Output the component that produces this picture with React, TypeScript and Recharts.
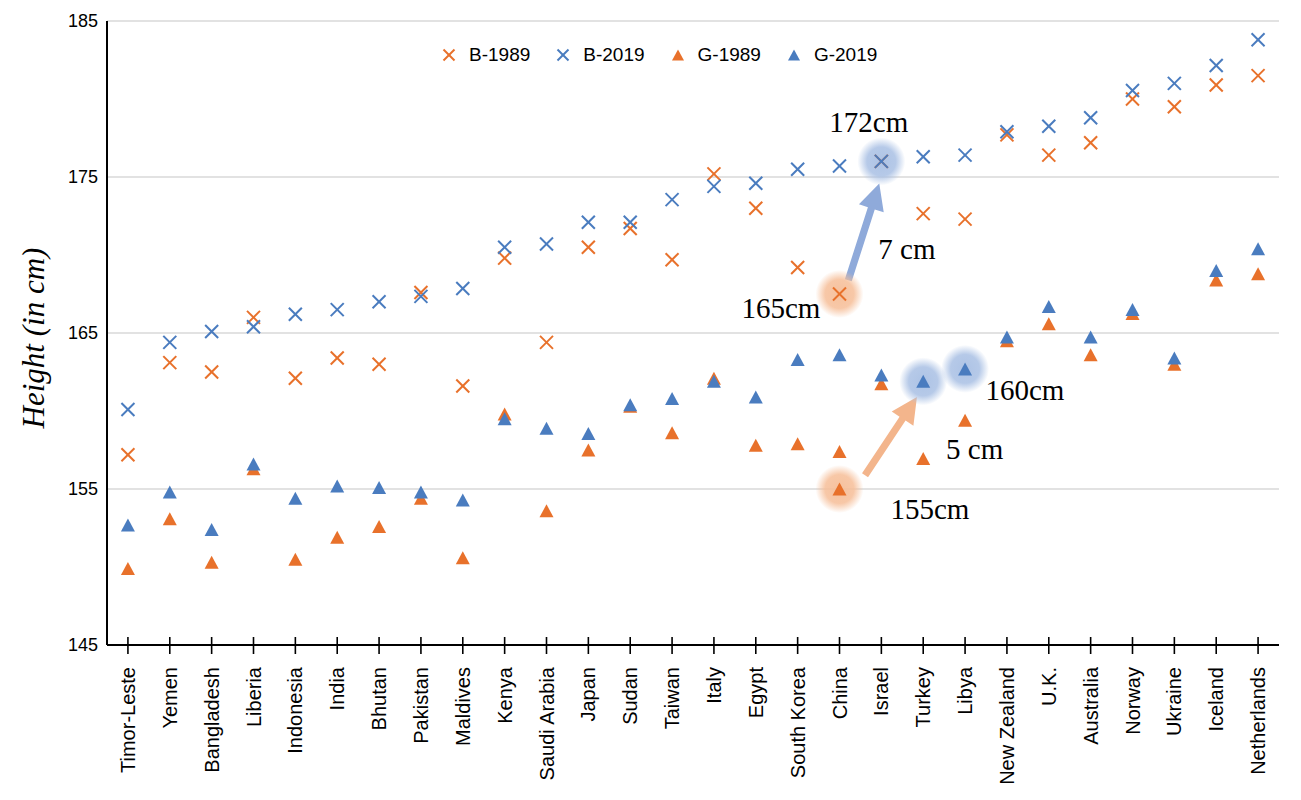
import React from 'react';
import {
  ScatterChart,
  Scatter,
  XAxis,
  YAxis,
  CartesianGrid,
  Legend,
  ReferenceDot,
  ReferenceLine,
} from 'recharts';

// Countries, sorted by boys' height in 2019
const countries = [
  'Timor-Leste', 'Yemen', 'Bangladesh', 'Liberia', 'Indonesia', 'India', 'Bhutan',
  'Pakistan', 'Maldives', 'Kenya', 'Saudi Arabia', 'Japan', 'Sudan', 'Taiwan',
  'Italy', 'Egypt', 'South Korea', 'China', 'Israel', 'Turkey', 'Libya',
  'New Zealand', 'U.K.', 'Australia', 'Norway', 'Ukraine', 'Iceland', 'Netherlands',
];

const boys1989 = [
  157.2, 163.1, 162.5, 166.0, 162.1, 163.4, 163.0, 167.6, 161.6, 169.8, 164.4, 170.5,
  171.7, 169.7, 175.2, 173.0, 169.2, 167.5, 176.0, 172.65, 172.3, 177.7, 176.4, 177.2,
  180.0, 179.5, 180.9, 181.5,
];
const boys2019 = [
  160.1, 164.4, 165.1, 165.4, 166.2, 166.5, 167.0, 167.35, 167.85, 170.5, 170.7, 172.1,
  172.1, 173.55, 174.4, 174.6, 175.5, 175.7, 176.0, 176.3, 176.4, 177.9, 178.25, 178.8,
  180.55, 181.0, 182.15, 183.8,
];
const girls1989 = [
  149.9, 153.1, 150.3, 156.3, 150.5, 151.9, 152.6, 154.4, 150.6, 159.8, 153.6, 157.5,
  160.3, 158.6, 162.1, 157.8, 157.9, 157.4, 161.75, 156.95, 159.4, 164.5, 165.6, 163.6,
  166.25, 163.0, 168.4, 168.8,
];
const girls2019 = [
  152.7, 154.8, 152.4, 156.6, 154.4, 155.2, 155.1, 154.8, 154.3, 159.5, 158.9, 158.55,
  160.4, 160.8, 161.9, 160.9, 163.3, 163.6, 162.3, 161.9, 162.7, 164.75, 166.7, 164.75,
  166.5, 163.4, 169.0, 170.4,
];

const yTicks = [145, 155, 165, 175, 185];

// highlighted points (index into countries, height)
const highlights = [
  { i: 17, v: 167.5, tone: 'orange', mark: '' },
  { i: 17, v: 155.0, tone: 'orange', mark: 'triangle' },
  { i: 18, v: 176.0, tone: 'blue', mark: '' },
  { i: 19, v: 161.9, tone: 'blue', mark: '' },
  { i: 20, v: 162.7, tone: 'blue', mark: '' },
];

const notes = [
  { i: 17.7, v: 177.87, text: '172cm' },
  { i: 18.61, v: 169.72, text: '7 cm' },
  { i: 15.6, v: 165.94, text: '165cm' },
  { i: 21.43, v: 160.72, text: '160cm' },
  { i: 20.23, v: 156.9, text: '5 cm' },
  { i: 19.16, v: 153.1, text: '155cm' },
];

const arrows = [
  { from: { x: 17.21, y: 168.38 }, to: { x: 17.95, y: 174.58 }, color: '#8FAADA' },
  { from: { x: 17.61, y: 155.88 }, to: { x: 18.85, y: 160.9 }, color: '#F3B58C' },
];

const ORANGE = '#E8712B';
const BLUE = '#4A7CBF';
const GLOW = { blue: '#A9C0E4', orange: '#F6BE98' };
const SANS = '"Liberation Sans", Arial, sans-serif';
const SERIF = '"Liberation Serif", "Times New Roman", serif';

const series = [
  { name: 'B-1989', values: boys1989, color: ORANGE, mark: 'cross' },
  { name: 'B-2019', values: boys2019, color: BLUE, mark: 'cross' },
  { name: 'G-1989', values: girls1989, color: ORANGE, mark: 'triangle' },
  { name: 'G-2019', values: girls2019, color: BLUE, mark: 'triangle' },
];

const toPoints = (values: number[]) => values.map((v, i) => ({ i, v }));

const Cross = ({ cx, cy, color, s = 6.5 }: any) => (
  <g stroke={color} strokeWidth={2}>
    <line x1={cx - s} y1={cy - s} x2={cx + s} y2={cy + s} />
    <line x1={cx - s} y1={cy + s} x2={cx + s} y2={cy - s} />
  </g>
);

const Triangle = ({ cx, cy, color, w = 7, h = 6.5 }: any) => (
  <polygon
    points={`${cx},${cy - h} ${cx + w},${cy + h} ${cx - w},${cy + h}`}
    fill={color}
  />
);

const markerShape = (mark: string, color: string) => (props: any) =>
  mark === 'cross'
    ? <Cross cx={props.cx} cy={props.cy} color={color} />
    : <Triangle cx={props.cx} cy={props.cy} color={color} />;

const GlowShape = (props: any) => {
  const { cx, cy, payload } = props;
  const tone = payload.tone as 'blue' | 'orange';
  const id = `glow-${tone}`;
  return (
    <g>
      <defs>
        <radialGradient id={id}>
          <stop offset="0%" stopColor={GLOW[tone]} stopOpacity={0.95} />
          <stop offset="60%" stopColor={GLOW[tone]} stopOpacity={0.85} />
          <stop offset="100%" stopColor={GLOW[tone]} stopOpacity={0} />
        </radialGradient>
      </defs>
      <circle cx={cx} cy={cy} r={24} fill={`url(#${id})`} />
      {payload.mark === 'triangle' && <Triangle cx={cx} cy={cy} color={ORANGE} />}
    </g>
  );
};

const ArrowShape = (color: string) => (p: any) => {
  const { x1, y1, x2, y2 } = p;
  const len = Math.hypot(x2 - x1, y2 - y1);
  const ux = (x2 - x1) / len;
  const uy = (y2 - y1) / len;
  const nx = -uy;
  const ny = ux;
  const head = 26;
  const hw = 13;
  const sw = 3.6;
  const bx = x2 - ux * head;
  const by = y2 - uy * head;
  const pts = [
    [x1 + nx * sw, y1 + ny * sw],
    [bx + nx * sw, by + ny * sw],
    [bx + nx * hw, by + ny * hw],
    [x2, y2],
    [bx - nx * hw, by - ny * hw],
    [bx - nx * sw, by - ny * sw],
    [x1 - nx * sw, y1 - ny * sw],
  ];
  return <polygon points={pts.map((q) => q.join(',')).join(' ')} fill={color} />;
};

const NoteShape = (text: string) => (p: any) => (
  <text x={p.cx} y={p.cy} textAnchor="middle" fontFamily={SERIF} fontSize={29} fill="#000">
    {text}
  </text>
);

const XTick = ({ x, y, payload }: any) => (
  <g>
    <line x1={x} x2={x} y1={y - 8} y2={y + 9} stroke="#000" strokeWidth={1.6} />
    <text
      transform={`translate(${x},${y + 22}) rotate(-90)`}
      textAnchor="end"
      dy="0.35em"
      fontFamily={SANS}
      fontSize={20}
      fill="#000"
    >
      {countries[payload.value]}
    </text>
  </g>
);

const YTick = ({ x, y, payload }: any) => (
  <text x={x} y={y} dy="0.35em" textAnchor="end" fontFamily={SANS} fontSize={18} fill="#000">
    {payload.value}
  </text>
);

const YLabel = (props: any) => {
  const vb = props.viewBox || { x: 0, y: 0, width: 0, height: 0 };
  const cx = vb.x + 33;
  const cy = vb.y + vb.height / 2 + 5;
  return (
    <text
      transform={`translate(${cx},${cy}) rotate(-90)`}
      textAnchor="middle"
      dy="0.35em"
      fontFamily={SERIF}
      fontStyle="italic"
      fontSize={31}
      fill="#000"
    >
      Height (in cm)
    </text>
  );
};

const LegendContent = (props: any) => {
  const items = (props.payload || []).filter((e: any) => series.some((s) => s.name === e.value));
  return (
    <div style={{ display: 'flex', alignItems: 'center', fontFamily: SANS, fontSize: 19, color: '#000', lineHeight: '22px' }}>
      {items.map((e: any) => {
        const s = series.find((q) => q.name === e.value)!;
        return (
          <div key={s.name} style={{ display: 'flex', alignItems: 'center', marginRight: 26 }}>
            <svg width={14} height={14}>
              {s.mark === 'cross'
                ? <Cross cx={7} cy={7} color={s.color} s={5.5} />
                : <Triangle cx={7} cy={7} color={s.color} w={6} h={5.5} />}
            </svg>
            <span style={{ marginLeft: 13 }}>{s.name}</span>
          </div>
        );
      })}
    </div>
  );
};

export default function App() {
  return (
    <div style={{ position: 'absolute', left: 0, top: 0, width: 1301, height: 800, background: '#fff' }}>
      <ScatterChart width={1301} height={800} margin={{ top: 21, right: 22, bottom: 0, left: 0 }}>
        <CartesianGrid horizontal vertical={false} stroke="#D9D9D9" strokeWidth={1.5} />
        <XAxis
          type="number"
          dataKey="i"
          domain={[-0.5, countries.length - 0.5]}
          ticks={countries.map((_, i) => i)}
          interval={0}
          height={155}
          tickSize={0}
          tickMargin={0}
          tickLine={false}
          axisLine={{ stroke: '#000', strokeWidth: 2 }}
          tick={<XTick />}
        />
        <YAxis
          type="number"
          dataKey="v"
          domain={[145, 185]}
          ticks={yTicks}
          interval={0}
          width={107}
          tickSize={0}
          tickMargin={9}
          tickLine={false}
          axisLine={{ stroke: '#000', strokeWidth: 2 }}
          tick={<YTick />}
          label={{ content: <YLabel /> }}
        />
        <Legend
          layout="horizontal"
          verticalAlign="middle"
          align="center"
          content={<LegendContent />}
          wrapperStyle={{ left: 442, top: 44, width: 480, height: 24 }}
        />
        <Scatter
          name="highlight"
          data={highlights}
          legendType="none"
          shape={GlowShape}
          isAnimationActive={false}
        />
        {series.map((s) => (
          <Scatter
            key={s.name}
            name={s.name}
            data={toPoints(s.values)}
            fill={s.color}
            shape={markerShape(s.mark, s.color)}
            isAnimationActive={false}
          />
        ))}
        {arrows.map((a, k) => (
          <ReferenceLine key={`arrow-${k}`} segment={[a.from, a.to]} shape={ArrowShape(a.color)} />
        ))}
        {notes.map((n) => (
          <ReferenceDot key={n.text} x={n.i} y={n.v} r={0} shape={NoteShape(n.text)} />
        ))}
      </ScatterChart>
    </div>
  );
}
